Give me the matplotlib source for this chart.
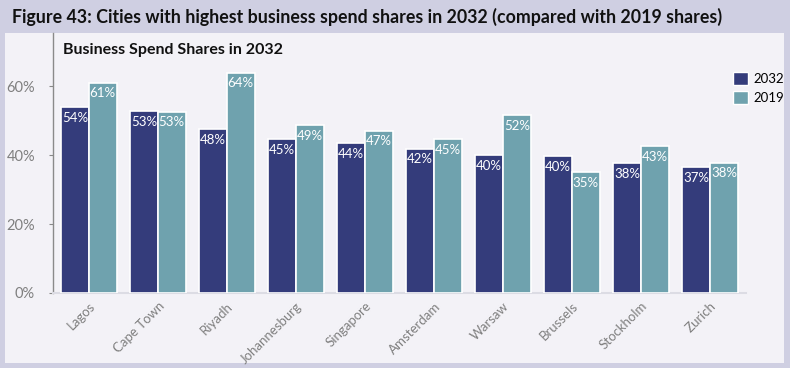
import matplotlib
matplotlib.use("Agg")
import matplotlib.pyplot as plt
from matplotlib.patches import Rectangle, Patch
import numpy as np

plt.rcParams['font.family'] = ['Lato', 'DejaVu Sans']

cities = ["Lagos", "Cape Town", "Riyadh", "Johannesburg", "Singapore",
          "Amsterdam", "Warsaw", "Brussels", "Stockholm", "Zurich"]
share_2032 = [53.9, 52.8, 47.6, 44.7, 43.5, 41.9, 40.0, 39.6, 37.7, 36.6]
share_2019 = [61.0, 52.6, 63.9, 48.6, 47.1, 44.6, 51.6, 35.1, 42.6, 37.8]
yticks = [0, 20, 40, 60]

c2032 = "#343c7b"
c2019 = "#6fa2ae"
bg_outer = "#cfcfe2"
bg_panel = "#f3f2f7"

fig = plt.figure(figsize=(7.9, 3.68), dpi=100, facecolor=bg_outer)
panel = Rectangle((5/790, 5/368), 779/790, 330/368,
                  transform=fig.transFigure, facecolor=bg_panel,
                  edgecolor="none", zorder=-10)
fig.patches.append(panel)
fig.text(12/790, 1 - 17/368,
         "Figure 43: Cities with highest business spend shares in 2032 (compared with 2019 shares)",
         fontsize=12.8, fontweight="bold", color="#111111", va="center", ha="left")

ax = fig.add_axes([53/790, 75/368, 693/790, 260/368])
ax.set_facecolor("none")
x = np.arange(len(cities))
w = 0.40
b1 = ax.bar(x - w/2, share_2032, w, color=c2032, edgecolor="white", linewidth=1.2, label="2032", zorder=3)
b2 = ax.bar(x + w/2, share_2019, w, color=c2019, edgecolor="white", linewidth=1.2, label="2019", zorder=3)
for bars, vals in ((b1, share_2032), (b2, share_2019)):
    for r, v in zip(bars, vals):
        ax.text(r.get_x() + r.get_width()/2, v - 1.4, f"{v:.0f}%", ha="center", va="top",
                color="white", fontsize=9.5, zorder=4)

ax.set_xlim(-0.52, 9.52)
ax.set_ylim(0, 75.4)
ax.set_yticks(yticks)
ax.set_yticklabels([f"{t}%" for t in yticks], fontsize=10.5, color="#7f7f7f")
ax.tick_params(axis="y", length=3, color="#888888", pad=10)
ax.set_xticks(x)
ax.set_xticklabels(cities, rotation=45, ha="right", rotation_mode="anchor",
                   fontsize=9.5, color="#7f7f7f")
ax.tick_params(axis="x", length=0, pad=5)
for s in ("top", "right"):
    ax.spines[s].set_visible(False)
ax.spines["left"].set_color("#8a8a8a")
ax.spines["left"].set_linewidth(1.0)
ax.spines["bottom"].set_color("#dcdce4")
ax.spines["bottom"].set_linewidth(1.5)

fig.text(63/790, 1 - 50/368, "Business Spend Shares in 2032",
         fontsize=11.5, fontweight="bold", color="#111111", va="center", ha="left")

handles = [Patch(facecolor=c2032, edgecolor="white", label="2032"),
           Patch(facecolor=c2019, edgecolor="white", label="2019")]
fig.legend(handles=handles, loc="upper left", bbox_to_anchor=(724/790, 1 - 63/368),
           frameon=False, fontsize=9.5, handlelength=1.1, handleheight=1.1,
           handletextpad=0.4, labelspacing=0.45, borderpad=0.2)

fig.savefig("out.png", dpi=100, facecolor=bg_outer)
